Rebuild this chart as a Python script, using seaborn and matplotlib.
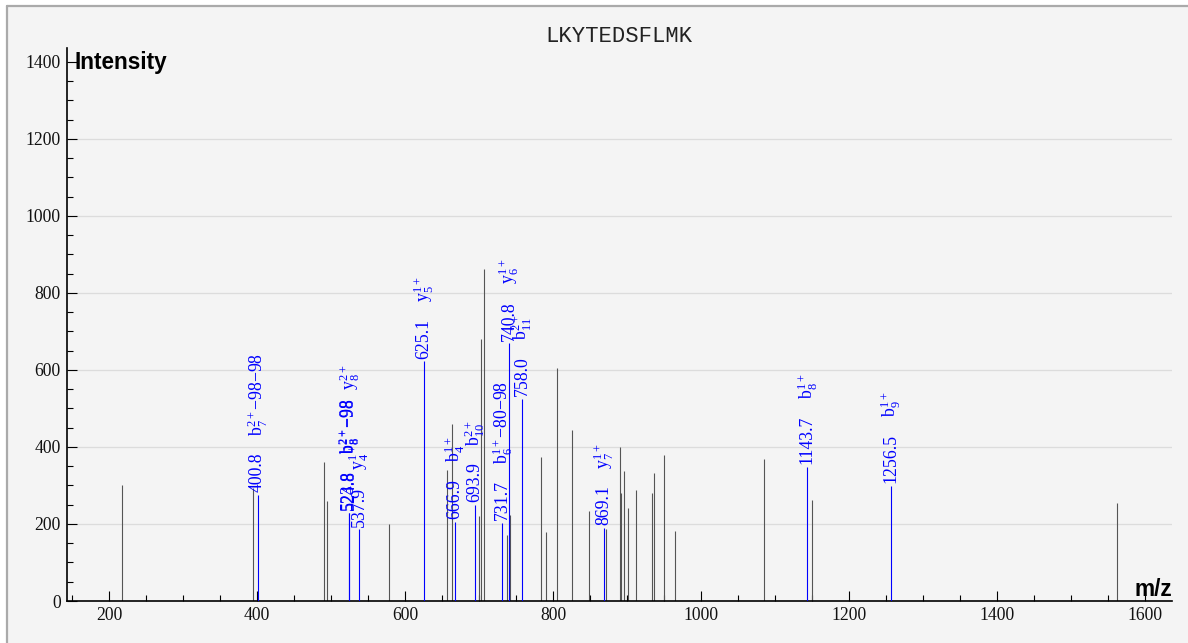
import matplotlib
matplotlib.use("Agg")
import numpy as np
import pandas as pd
import seaborn as sns
import matplotlib.pyplot as plt
from matplotlib.ticker import MultipleLocator
from matplotlib.patches import Rectangle
from matplotlib.lines import Line2D

# ---------------- data ----------------
title = "LKYTEDSFLMK"
x_label = "m/z"
y_label = "Intensity"

# unannotated peaks (grey)
peak_mz = [217.9, 394.2, 490.5, 495.0, 578.0, 656.8, 663.9, 700.0, 702.4, 706.8,
           738.3, 742.3, 784.2, 791.0, 805.0, 825.3, 848.6, 872.0, 890.5, 892.3,
           896.0, 901.4, 911.8, 933.4, 936.0, 950.0, 964.5, 1085.5, 1149.6, 1561.6]
peak_int = [300, 294, 360, 260, 199, 340, 459, 222, 680, 862,
            171, 223, 373, 180, 604, 444, 234, 186, 401, 281,
            338, 242, 287, 281, 332, 378, 182, 370, 262, 254]

# annotated peaks (blue)
ann_mz = [400.8, 523.8, 524.8, 537.9, 625.1, 666.9, 693.9, 731.7, 740.8, 758.0,
          869.1, 1143.7, 1256.5]
ann_int = [275, 228, 228, 186, 622, 206, 249, 202, 669, 524,
           189, 349, 299]
ann_ions = [
    ["$\\mathrm{b}_{7}^{2+}$\u221298\u221298"],
    ["$\\mathrm{b}_{8}^{2+}$\u221298"],
    ["$\\mathrm{b}_{8}^{2+}$\u221298", "$\\mathrm{y}_{8}^{2+}$"],
    ["$\\mathrm{y}_{4}^{1+}$"],
    ["$\\mathrm{y}_{5}^{1+}$"],
    ["$\\mathrm{b}_{4}^{1+}$"],
    ["$\\mathrm{b}_{10}^{2+}$"],
    ["$\\mathrm{b}_{6}^{1+}$\u221280\u221298"],
    ["$\\mathrm{y}_{6}^{1+}$"],
    ["$\\mathrm{b}_{11}^{2+}$"],
    ["$\\mathrm{y}_{7}^{1+}$"],
    ["$\\mathrm{b}_{8}^{1+}$"],
    ["$\\mathrm{b}_{9}^{1+}$"],
]

x_range = (143.2, 1636.5)
y_range = (0, 1436)
x_major = 200
x_minor = 50
y_major = 200
y_minor = 50

# ---------------- style ----------------
sns.set_theme(style="ticks")
plt.rcParams["font.family"] = ["Liberation Serif", "DejaVu Serif"]
plt.rcParams["mathtext.fontset"] = "custom"
plt.rcParams["mathtext.rm"] = "Liberation Serif"
plt.rcParams["mathtext.it"] = "Liberation Serif:italic"
plt.rcParams["mathtext.bf"] = "Liberation Serif:bold"

W, H, DPI = 1188, 643, 100
fig = plt.figure(figsize=(W / DPI, H / DPI), dpi=DPI)
fig.patch.set_facecolor("white")

# panel background with top/left border
fig.patches.append(Rectangle((7 / W, 0), 1 - 7 / W, 1 - 6 / H, transform=fig.transFigure,
                             facecolor="#f4f4f4", edgecolor="none", zorder=-10))
fig.lines.append(Line2D([7 / W, 1], [1 - 6 / H, 1 - 6 / H], transform=fig.transFigure,
                        color="#aaaaaa", lw=1.6))
fig.lines.append(Line2D([7 / W, 7 / W], [0, 1 - 6 / H], transform=fig.transFigure,
                        color="#aaaaaa", lw=1.6))

ax = fig.add_axes([67 / W, 1 - 601 / H, (1172 - 67) / W, (601 - 48) / H])
ax.set_facecolor("none")
ax.set_xlim(*x_range)
ax.set_ylim(*y_range)

for s in ["top", "right"]:
    ax.spines[s].set_visible(False)
for s in ["left", "bottom"]:
    ax.spines[s].set_color("black")
    ax.spines[s].set_linewidth(1.2)

ax.xaxis.set_major_locator(MultipleLocator(x_major))
ax.xaxis.set_minor_locator(MultipleLocator(x_minor))
ax.yaxis.set_major_locator(MultipleLocator(y_major))
ax.yaxis.set_minor_locator(MultipleLocator(y_minor))
ax.tick_params(which="major", direction="in", length=7, width=0.8, color="black",
               labelsize=12.7, pad=4.5, labelcolor="#111111")
ax.tick_params(which="minor", direction="in", length=4, width=0.8, color="black")
ax.set_xlabel("")
ax.set_ylabel("")

# horizontal grid lines (major y ticks, not the top one)
yt = np.arange(y_major, y_range[1] - y_major, y_major)
for v in yt:
    ax.axhline(v, color="#dcdcdc", lw=0.9, zorder=0)

# peaks
ax.vlines(peak_mz, 0, peak_int, color="#555555", lw=0.8, zorder=2)
ax.vlines(ann_mz, 0, ann_int, color="#0000ff", lw=0.8, zorder=3)

# labels
renderer = fig.canvas.get_renderer()
for mz, inten, ions in zip(ann_mz, ann_int, ann_ions):
    t = ax.annotate(f"{mz:.1f}", xy=(mz, inten), xytext=(0, 2.0),
                    textcoords="offset points", rotation=90, ha="center", va="bottom",
                    color="#0000ff", fontsize=12.8, zorder=4)
    bb = t.get_window_extent(renderer)
    off = 2.0 + bb.height * 72 / DPI + 12
    for ion in ions:
        t2 = ax.annotate(ion, xy=(mz, inten), xytext=(0, off),
                         textcoords="offset points", rotation=90, ha="center", va="bottom",
                         color="#0000ff", fontsize=12.8, zorder=4)
        bb2 = t2.get_window_extent(renderer)
        off += bb2.height * 72 / DPI + 6

# texts
fig.text(618.5 / W, 1 - 36.5 / H, title, ha="center", va="center",
         family="Liberation Mono", fontsize=16, color="#222222")
fig.text(74 / W, 1 - 69 / H, y_label, ha="left", va="baseline",
         family="Liberation Sans", fontweight="bold", fontsize=16.3, color="black")
fig.text(1172 / W, 1 - 596 / H, x_label, ha="right", va="baseline",
         family="Liberation Sans", fontweight="bold", fontsize=16.3, color="black")

fig.savefig("out.png", dpi=DPI)
